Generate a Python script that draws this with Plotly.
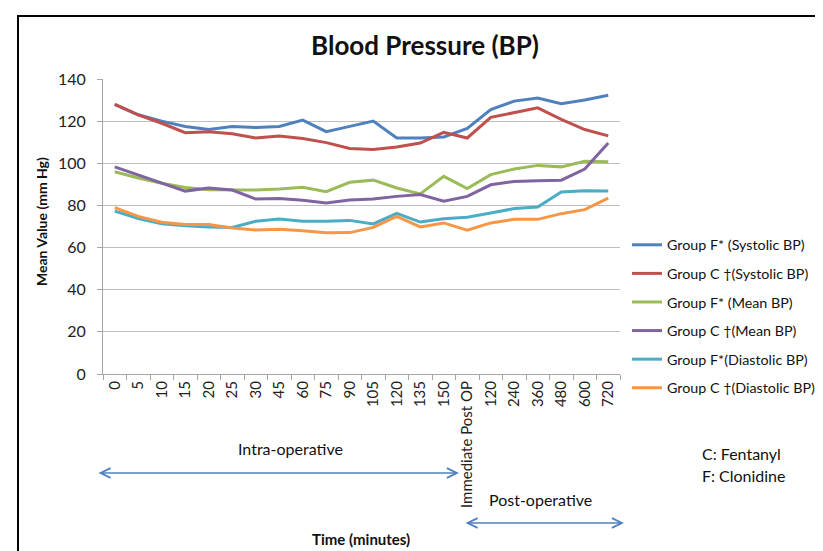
import plotly.graph_objects as go

tick_labels = ["0", "5", "10", "15", "20", "25", "30", "45", "60", "75", "90", "105",
               "120", "135", "150", "Immediate Post OP", "120", "240", "360", "480", "600", "720"]

f_systolic = [128, 123, 120, 117.5, 116, 117.5, 117, 117.5, 120.5, 115, 117.5, 120,
              112, 112, 112.5, 116.5, 125.5, 129.5, 131, 128.3, 130, 132.3]
c_systolic = [128, 123, 119, 114.5, 115, 114, 112, 113, 111.8, 109.8, 107, 106.5,
              107.7, 109.6, 114.7, 112, 121.8, 124.2, 126.3, 120.8, 116, 113]
f_mean = [96, 93, 90.5, 88.5, 87.5, 87.5, 87.3, 87.8, 88.6, 86.5, 91, 92,
          88.3, 85.5, 93.8, 88, 94.6, 97.3, 99, 98.3, 101, 100.7]
c_mean = [98.3, 94.5, 90.5, 86.8, 88.3, 87.3, 83, 83.3, 82.5, 81.2, 82.6, 83,
          84.3, 85.2, 82, 84.3, 89.8, 91.4, 91.7, 92, 97.3, 109.6]
f_diastolic = [77.3, 73.8, 71.3, 70.3, 69.8, 69.5, 72.5, 73.6, 72.5, 72.5, 72.9, 71.2,
               76.2, 72.1, 73.7, 74.4, 76.4, 78.5, 79.2, 86.4, 87, 86.8]
c_diastolic = [79, 74.8, 72, 70.9, 70.9, 69.3, 68.3, 68.7, 68, 67, 67.1, 69.6,
               74.8, 69.8, 71.7, 68.3, 71.7, 73.4, 73.4, 76.1, 78, 83.5]

series_names = ["Group F* (Systolic BP)", "Group C \u2020(Systolic BP)", "Group F* (Mean BP)",
                "Group C \u2020(Mean BP)", "Group F*(Diastolic BP)", "Group C \u2020(Diastolic BP)"]
series_values = [f_systolic, c_systolic, f_mean, c_mean, f_diastolic, c_diastolic]
colors = ["#4F81BD", "#C0504D", "#9BBB59", "#8064A2", "#4BACC6", "#F79646"]

FONT = "Lato"
x_idx = list(range(len(tick_labels)))

fig = go.Figure()
for i, (name, vals) in enumerate(zip(series_names, series_values)):
    fig.add_trace(go.Scatter(
        x=x_idx, y=vals, mode="lines", name=name, legendgroup=f"g{i}",
        line=dict(color=colors[i], width=3)))

W, H = 823, 551
L, R, T, B = 95, 211, 71, 185
pw, ph = W - L - R, H - T - B


def px(x):
    return (x - L) / pw


def py(y):
    return (H - B - y) / ph


fig.update_layout(
    width=W, height=H,
    margin=dict(l=L, r=R, t=T, b=B, autoexpand=False),
    paper_bgcolor="white", plot_bgcolor="white",
    font=dict(family=FONT, color="#222222"),
    title=dict(text="<b>Blood Pressure (BP)</b>", x=417 / W, xanchor="center",
               y=1 - 38 / H, yanchor="middle", yref="container",
               font=dict(size=26, family=FONT, color="#111111")),
    showlegend=True,
    legend=dict(x=px(619), xanchor="left", y=py(221), yanchor="top",
                font=dict(size=14.3, family=FONT, color="#111111"),
                tracegroupgap=7, bgcolor="rgba(0,0,0,0)"),
    xaxis=dict(range=[-0.5, len(tick_labels) - 0.5], tickmode="array", tickvals=x_idx,
               ticktext=tick_labels, tickangle=-90, ticks="", showgrid=False,
               showline=True, linecolor="#A6A6A6", linewidth=1,
               tickfont=dict(size=15, family=FONT, color="#222222"),
               minor=dict(ticks="outside", tick0=-0.5, dtick=1, ticklen=5,
                          tickcolor="#A6A6A6", showgrid=False),
               zeroline=False, fixedrange=True),
    yaxis=dict(range=[0, 140], dtick=20, showgrid=True, gridcolor="#BFBFBF", gridwidth=1,
               showline=True, linecolor="#A6A6A6", linewidth=1, ticks="outside",
               ticklen=5, tickcolor="#A6A6A6", zeroline=False, ticklabelstandoff=8,
               tickfont=dict(size=16, family=FONT, color="#222222"), fixedrange=True),
)

annotations = [
    dict(text="<b>Mean Value (mm Hg)</b>", x=px(33), y=py(214), textangle=-90,
         xanchor="center", yanchor="middle", font=dict(size=14, family=FONT, color="#111111")),
    dict(text="Intra-operative", x=px(282), y=py(440), xanchor="center", yanchor="middle",
         font=dict(size=16, family=FONT, color="#111111")),
    dict(text="Post-operative", x=px(532), y=py(491), xanchor="center", yanchor="middle",
         font=dict(size=16, family=FONT, color="#111111")),
    dict(text="<b>Time (minutes)</b>", x=px(353), y=py(531), xanchor="center", yanchor="middle",
         font=dict(size=15, family=FONT, color="#111111")),
    dict(text="C: Fentanyl", x=px(692), y=py(445), xanchor="left", yanchor="middle",
         font=dict(size=16, family=FONT, color="#111111")),
    dict(text="F: Clonidine", x=px(692), y=py(467), xanchor="left", yanchor="middle",
         font=dict(size=16, family=FONT, color="#111111")),
]
for a in annotations:
    a.update(xref="paper", yref="paper", showarrow=False)
    fig.add_annotation(**a)

# double-headed arrows
for x0, x1, yy in [(89, 451, 465), (456, 616, 515)]:
    fig.add_annotation(xref="paper", yref="paper", x=px(x1), y=py(yy), ax=x0 - x1, ay=0,
                       axref="pixel", ayref="pixel", text="", showarrow=True,
                       arrowhead=5, startarrowhead=5, arrowside="end+start",
                       arrowsize=1.3, startarrowsize=1.3, arrowwidth=1.5, arrowcolor="#4F81BD")

# outer frame
fig.add_shape(type="rect", xref="paper", yref="paper", x0=px(10), x1=px(900), y0=py(8), y1=py(620),
              line=dict(color="black", width=2), fillcolor="rgba(0,0,0,0)", layer="below")

fig.write_html("out.html")
